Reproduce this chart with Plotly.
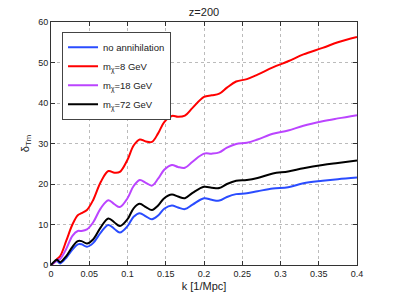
import plotly.graph_objects as go

k = [0, 0.005, 0.008, 0.012, 0.02, 0.028, 0.035, 0.04, 0.047, 0.055, 0.065, 0.075, 0.083, 0.09,
     0.1, 0.108, 0.116, 0.124, 0.132, 0.14, 0.148, 0.158, 0.166, 0.175, 0.185, 0.2, 0.21, 0.22,
     0.23, 0.242, 0.256, 0.27, 0.29, 0.31, 0.33, 0.355, 0.375, 0.4]

no_annihilation = [0, 0.8, 1.0, 0.4, 1.8, 3.8, 5.1, 5.1, 4.5, 5.4, 8.0, 9.9, 8.9, 8.0,
                   9.6, 11.9, 12.8, 12.0, 11.3, 12.2, 13.9, 14.7, 14.2, 13.8, 14.9, 16.5, 16.1, 15.9,
                   16.8, 17.5, 17.7, 18.2, 18.9, 19.2, 20.2, 20.8, 21.2, 21.6]
m8 = [0, 0.8, 1.5, 2.2, 6.0, 10.0, 12.3, 12.8, 13.6, 16.0, 20.5, 23.2, 22.8, 23.0,
      26.0, 29.5, 31.0, 30.5, 30.4, 32.5, 35.3, 36.8, 36.6, 36.9, 38.8, 41.5, 41.9, 42.3,
      43.8, 45.3, 45.9, 47.0, 48.8, 50.3, 52.0, 53.6, 55.0, 56.3]
m18 = [0, 0.7, 1.2, 1.5, 4.0, 7.2, 8.4, 8.4, 8.8, 10.5, 14.0, 16.0, 15.0, 14.3,
       16.5, 19.5, 21.0, 20.3, 19.6, 21.3, 23.5, 24.7, 24.2, 24.0, 25.5, 27.5, 27.5, 27.8,
       29.0, 29.9, 30.2, 31.0, 32.4, 33.2, 34.4, 35.5, 36.2, 37.0]
m72 = [0, 1.0, 1.3, 0.7, 2.2, 4.5, 5.9, 5.9, 5.3, 6.3, 9.3, 11.5, 10.5, 9.6,
       11.3, 14.0, 15.1, 14.3, 13.6, 14.7, 16.5, 17.4, 16.9, 16.5, 17.8, 19.3, 19.1, 19.0,
       20.0, 20.8, 21.0, 21.5, 22.6, 23.1, 23.9, 24.7, 25.2, 25.8]

x_tickvals = [0, 0.05, 0.1, 0.15, 0.2, 0.25, 0.3, 0.35, 0.4]
x_ticktext = ["0", "0.05", "0.1", "0.15", "0.2", "0.25", "0.3", "0.35", "0.4"]
y_tickvals = [0, 10, 20, 30, 40, 50, 60]

series = [
    ("no annihilation", no_annihilation, "#2a4cff"),
    ("m<sub>χ</sub>=8 GeV", m8, "#ff0000"),
    ("m<sub>χ</sub>=18 GeV", m18, "#bb44ff"),
    ("m<sub>χ</sub>=72 GeV", m72, "#000000"),
]

fig = go.Figure()
for name, vals, col in series:
    fig.add_trace(go.Scatter(x=k, y=vals, mode="lines", name=name,
                             line=dict(color=col, width=2, shape="spline", smoothing=1.0)))

axis_common = dict(showline=True, linecolor="#333", linewidth=1, mirror="ticks",
                   ticks="inside", ticklen=4, tickcolor="#333", automargin=False,
                   showgrid=True, gridcolor="#bbbbbb", griddash="dot", gridwidth=1,
                   zeroline=False, tickfont=dict(size=9, color="#222"))

fig.update_layout(
    width=395, height=298,
    margin=dict(l=51, r=38, t=22, b=33),
    paper_bgcolor="white", plot_bgcolor="white",
    font=dict(family="Liberation Sans, Arial, sans-serif", color="#222"),
    title=dict(text="z=200", x=0.5, xref="paper", xanchor="center", y=0.96, yanchor="middle",
               font=dict(size=11)),
    xaxis=dict(range=[0, 0.4], tickvals=x_tickvals, ticktext=x_ticktext,
               title=dict(text="k [1/Mpc]", font=dict(size=11), standoff=4), **axis_common),
    yaxis=dict(range=[0, 60], tickvals=y_tickvals,
               title=dict(text="δ<sub>Tm</sub>", font=dict(size=11), standoff=6), **axis_common),
    legend=dict(x=0.036, y=0.96, xanchor="left", yanchor="top", bgcolor="white",
                bordercolor="#444", borderwidth=1, font=dict(size=9.5),
                tracegroupgap=0, itemwidth=30),
    showlegend=True,
)

fig.write_html("out.html", config={"displayModeBar": False},
               post_script="document.body.style.margin='0';")
